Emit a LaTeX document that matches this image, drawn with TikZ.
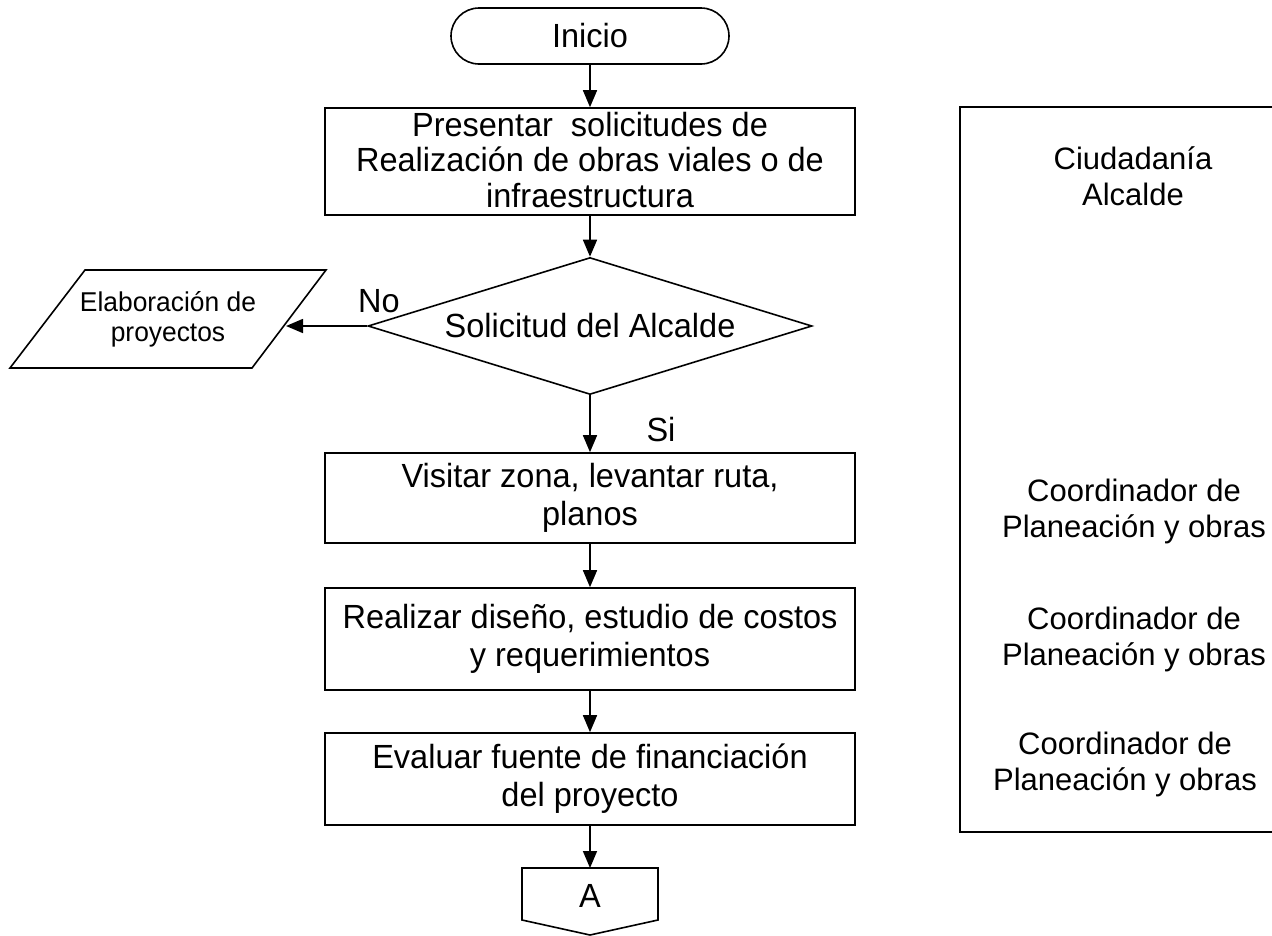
\documentclass[tikz,border=0pt]{standalone}
\usepackage{fontspec}
\setmainfont{Liberation Sans}
\newfontfamily\narrowfont[FakeStretch=0.97]{Liberation Sans}
\usetikzlibrary{arrows.meta,shapes.geometric}
\begin{document}
\begin{tikzpicture}[x=1pt,y=-1pt,line width=1.6pt,
  flowtext/.style={font=\narrowfont\fontsize{33.5}{38}\selectfont},
  procbox/.style={draw,rectangle,minimum width=530pt,align=center,inner sep=0pt,flowtext},
  arr/.style={-{Triangle[length=17pt,width=14pt]}},
  roletext/.style={align=center,inner sep=0pt,font=\fontsize{31}{36}\selectfont},
  lbl/.style={inner sep=0pt,flowtext}]
\useasboundingbox (0,0) rectangle (1272,935);
% start
\node[draw,rounded corners=28pt,minimum width=278pt,minimum height=56pt,inner sep=0pt,flowtext] (inicio) at (590,36) {Inicio};
\node[procbox,minimum height=107pt,font=\narrowfont\fontsize{33.5}{35.5}\selectfont,
  text depth=4pt] (pres) at (590,161.5) {Presentar\ \ solicitudes de\\Realización de obras viales o de\\infraestructura};
\node[draw,diamond,aspect=3.2,minimum width=444pt,minimum height=137pt,inner sep=0pt,flowtext] (dec) at (590,326) {Solicitud del Alcalde};
\node[procbox,minimum height=90pt] (visit) at (590,498) {Visitar zona, levantar ruta,\\planos};
\node[procbox,minimum height=102pt] (real) at (590,639) {Realizar diseño, estudio de costos\\y requerimientos};
\node[procbox,minimum height=92pt] (eval) at (590,779) {Evaluar fuente de financiación\\del proyecto};
% off-page connector A
\draw (522,868) -- (658,868) -- (658,920) -- (590,935) -- (522,920) -- cycle;
\node[lbl] (conA) at (590,896) {A};
\coordinate (conAtop) at (590,868);
% parallelogram
\draw (85,270) -- (326,270) -- (252,368) -- (10,368) -- cycle;
\node[align=center,inner sep=0pt,font=\narrowfont\fontsize{27.2}{30}\selectfont] (elab) at (168,319) {Elaboración de\\proyectos};
\coordinate (elabR) at (286,326);
% connectors
\draw[arr] (inicio) -- (pres);
\draw[arr] (pres) -- (dec.north);
\draw[arr] (dec.south) -- (visit.north);
\draw[arr] (dec.west) -- (elabR);
\draw[arr] (visit) -- (real);
\draw[arr] (real) -- (eval);
\draw[arr] (eval.south) -- (conAtop);
% labels
\node[lbl] (no) at (379,301) {No};
\node[lbl] (si) at (661,430) {Si};
% roles box
\draw (960,107) rectangle (1290,832);
\node[roletext] (r1) at (1133,176) {Ciudadanía\\Alcalde};
\node[roletext] (r2) at (1134,511) {Coordinador de\\Planeación y obras};
\node[roletext] (r3) at (1134,639) {Coordinador de\\Planeación y obras};
\node[roletext] (r4) at (1125,764) {Coordinador de\\Planeación y obras};
\end{tikzpicture}
\end{document}
